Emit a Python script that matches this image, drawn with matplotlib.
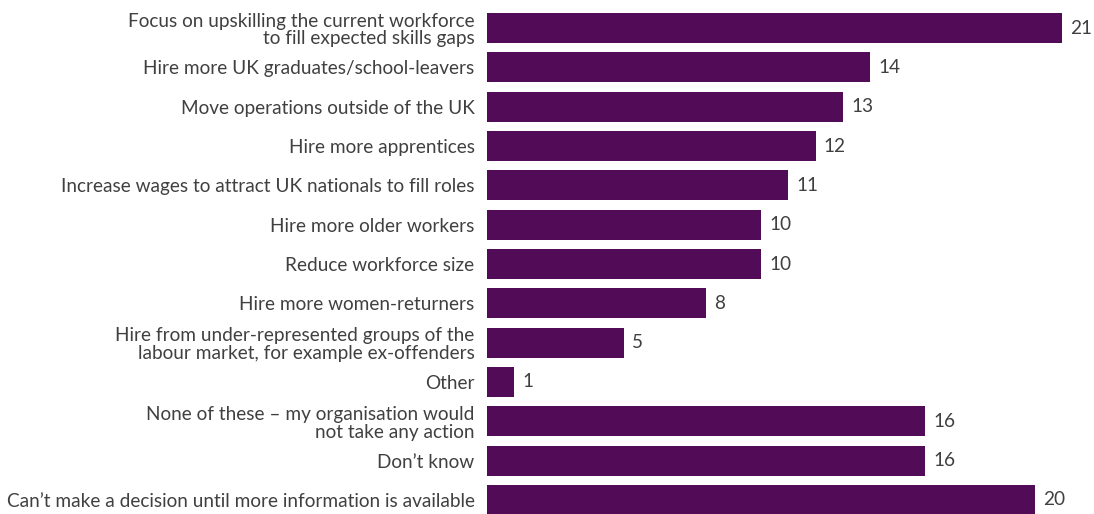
import matplotlib.pyplot as plt

plt.rcParams['font.family'] = ['Lato', 'DejaVu Sans']

labels = [
    "Focus on upskilling the current workforce\nto fill expected skills gaps",
    "Hire more UK graduates/school-leavers",
    "Move operations outside of the UK",
    "Hire more apprentices",
    "Increase wages to attract UK nationals to fill roles",
    "Hire more older workers",
    "Reduce workforce size",
    "Hire more women-returners",
    "Hire from under-represented groups of the\nlabour market, for example ex-offenders",
    "Other",
    "None of these \u2013 my organisation would\nnot take any action",
    "Don\u2019t know",
    "Can\u2019t make a decision until more information is available",
]
values = [21, 14, 13, 12, 11, 10, 10, 8, 5, 1, 16, 16, 20]

bar_color = '#520c57'
text_color = '#404040'

fig = plt.figure(figsize=(10.94, 5.14), dpi=100)
ax = fig.add_axes([0.4452, 0, 0.5548, 1])

pos = list(range(len(values)))
ax.barh(pos, values, height=0.76, color=bar_color)

ax.set_xlim(0, 22.17)
ax.set_ylim(12.356, -0.712)

ax.set_yticks(pos)
ax.set_yticklabels(labels, fontsize=13.7, color=text_color, linespacing=1.05)
ax.tick_params(axis='y', length=0, pad=9)
ax.set_xticks([])

for p, v in zip(pos, values):
    ax.text(v + 0.3, p, str(v), va='center', ha='left', fontsize=13.7,
            color=text_color)

for s in ax.spines.values():
    s.set_visible(False)

fig.savefig('out.png', dpi=100)
